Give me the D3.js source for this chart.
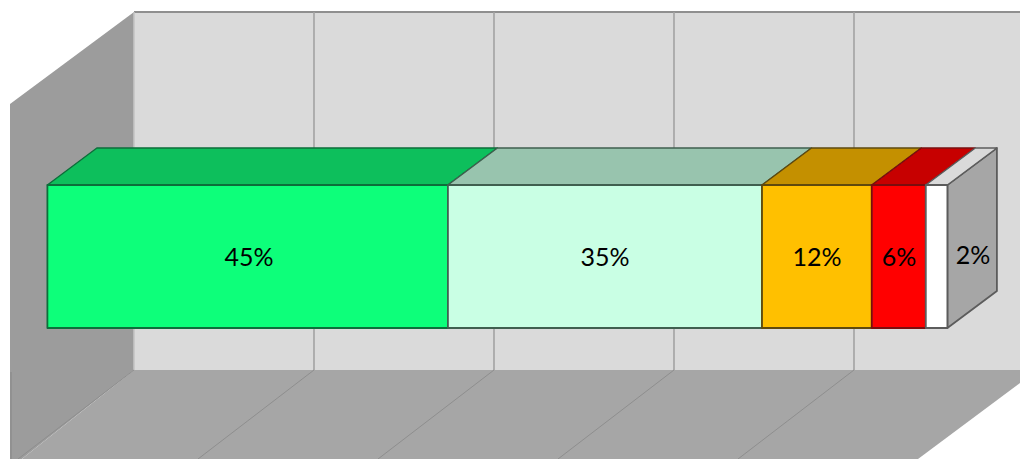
<!DOCTYPE html>
<html><head><meta charset="utf-8">
<script src="https://cdn.jsdelivr.net/npm/d3@7/dist/d3.min.js"></script>
<style>html,body{margin:0;padding:0;background:#fff;overflow:hidden}svg{display:block}</style>
</head><body><div id="c"></div>
<script>
const categories = ["A","B","C","D","E"];
const values = [44.5, 34.9, 12.2, 6.0, 2.4];
const labels = ["45%","35%","12%","6%","2%"];
const frontColors = ["#0aff7a","#c9ffe4","#ffc000","#ff0000","#ffffff"];
const topColors = ["#08bf5c","#98c4ae","#c49000","#c70000","#dadada"];
const edgeColors = ["#0b6e3a","#3f5f4f","#5e4a10","#7a1010","#5c5c5c"];
const gridTicks = [0,20,40,60,80,100];

const W=1020,H=459;
const svg=d3.select("#c").append("svg").attr("width",W).attr("height",H);
const defs=svg.append("defs");
defs.append("filter").attr("id","soft").append("feGaussianBlur").attr("stdDeviation",0.55);

// one scale for the back wall, shifted by the depth offset for the bar
const x=d3.scaleLinear().domain([0,100]).range([134,1034]);
const wallTop=12,wallBottom=370;
const barTop=185,barBottom=328;
const depthX=49.5,depthY=37;
const barShift=-86.6;

const root=svg.append("g").attr("filter","url(#soft)");
const line=d3.line();
const poly=(pts,fill,stroke,sw)=>root.append("path").attr("d",line(pts)+"Z")
  .attr("fill",fill).attr("stroke",stroke||"none").attr("stroke-width",sw||0).attr("stroke-linejoin","round");

// walls
poly([[134,wallTop],[W+4,wallTop],[W+4,wallBottom],[134,wallBottom]],"#dadada");
poly([[10,104],[134,wallTop],[134,wallBottom],[18,459+3],[10,459+3]],"#9c9c9c");
poly([[134,wallBottom],[W+4,wallBottom],[W+4,380],[914,462],[18,462]],"#a6a6a6");

// top edge of the wall
root.append("line").attr("x1",134).attr("x2",W+4).attr("y1",wallTop).attr("y2",wallTop)
  .attr("stroke","#8f8f8f").attr("stroke-width",2);

// gridlines
const floorSlope=116/89;
const grid=root.append("g");
grid.selectAll("line.v").data(gridTicks.slice(0,5)).join("line").attr("class","v")
  .attr("x1",d=>x(d)).attr("x2",d=>x(d)).attr("y1",wallTop).attr("y2",wallBottom)
  .attr("stroke",d=>d===0?"#c4c4c4":"#a2a2a2").attr("stroke-width",1.6);
grid.selectAll("line.f").data(gridTicks.slice(0,5)).join("line").attr("class","f")
  .attr("x1",d=>x(d)).attr("y1",wallBottom)
  .attr("x2",d=>x(d)-(H-wallBottom)*floorSlope).attr("y2",H)
  .attr("stroke","#8e8e8e").attr("stroke-width",1);
root.append("line").attr("x1",11).attr("x2",11).attr("y1",372).attr("y2",H+3)
  .attr("stroke","#8e8e8e").attr("stroke-width",1.5);

// stacked segments
let cum=0;
const segs=values.map((v,i)=>{const s={i,x0:x(cum)+barShift,x1:x(cum+v)+barShift,label:labels[i],cat:categories[i]};cum+=v;return s;});
const end=segs[segs.length-1].x1;

// right side
poly([[end,barTop],[end+depthX,barTop-depthY],[end+depthX,barBottom-depthY],[end,barBottom]],"#a6a6a6","#5c5c5c",1.8);
// tops
segs.forEach(s=>poly([[s.x0,barTop],[s.x0+depthX,barTop-depthY],[s.x1+depthX,barTop-depthY],[s.x1,barTop]],topColors[s.i],edgeColors[s.i],1.4));
// fronts
segs.forEach(s=>poly([[s.x0,barTop],[s.x1,barTop],[s.x1,barBottom],[s.x0,barBottom]],frontColors[s.i],edgeColors[s.i],1.8));

// labels
const labelX=[249,605,817,899,973], labelY=[266,266,266,266,264];
svg.selectAll("text.l").data(segs).join("text").attr("class","l")
  .attr("x",(d,i)=>labelX[i]).attr("y",(d,i)=>labelY[i])
  .attr("text-anchor","middle").attr("font-family","Lato, 'Open Sans', sans-serif")
  .attr("font-size",25).attr("fill","#000").text(d=>d.label);
</script></body></html>
